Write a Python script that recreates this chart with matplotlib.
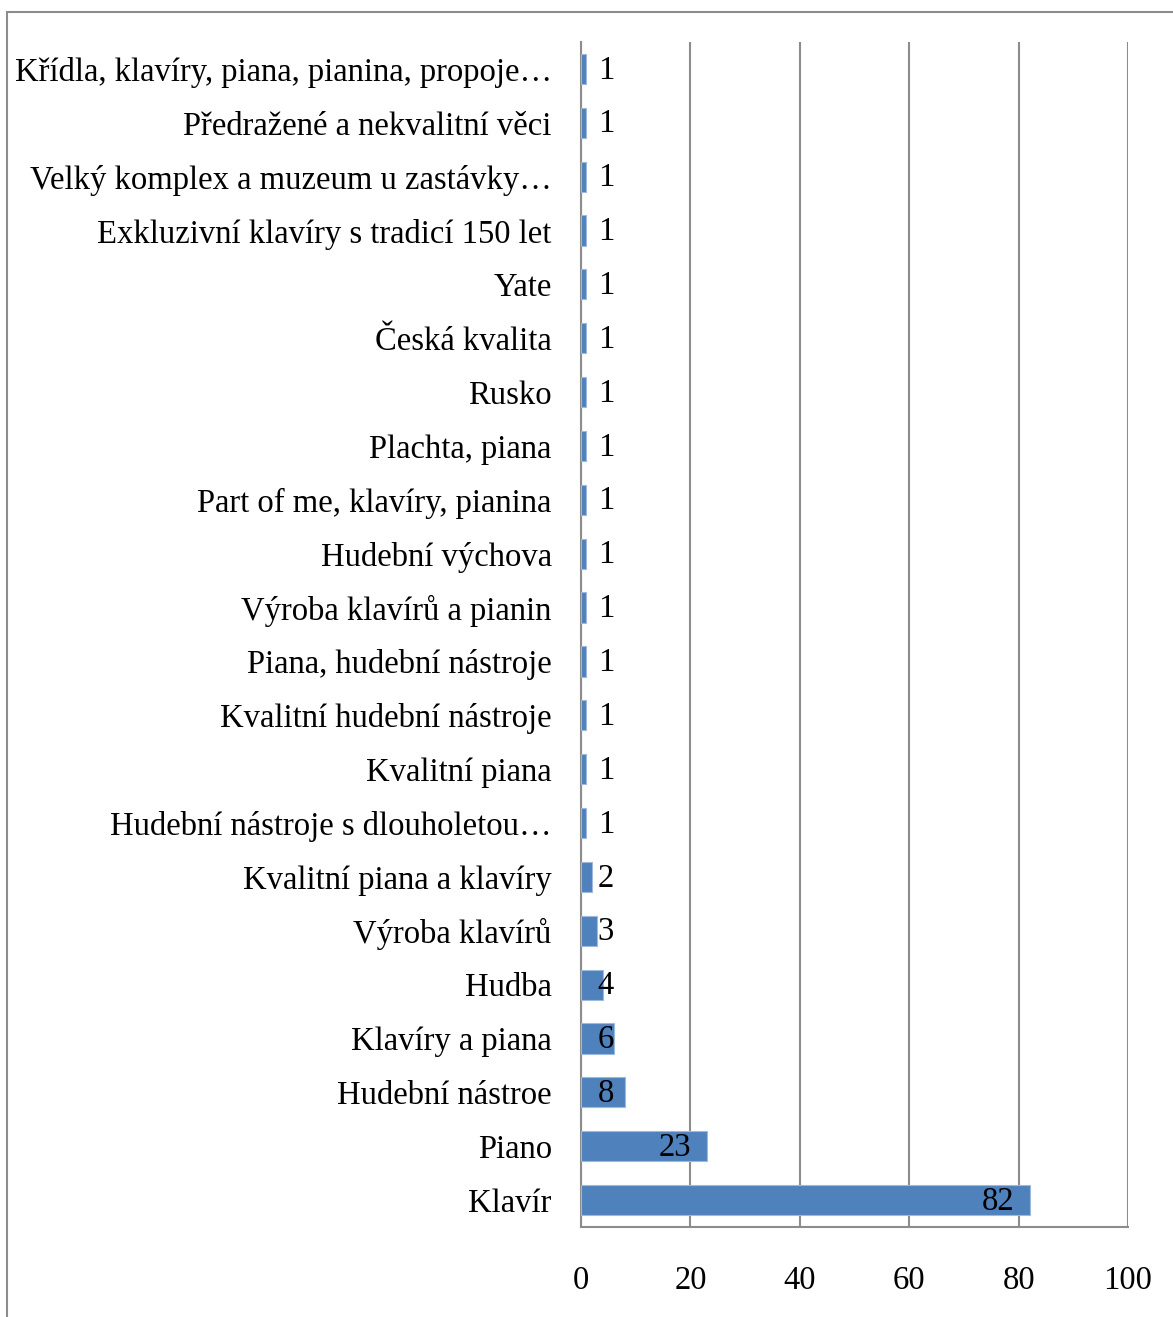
import matplotlib.pyplot as plt
from matplotlib.patches import Rectangle

# odpovedi (shora dolu) a pocty
kategorie = [
    "Křídla, klavíry, piana, pianina, propoje…",
    "Předražené a nekvalitní věci",
    "Velký komplex a muzeum u zastávky…",
    "Exkluzivní klavíry s tradicí 150 let",
    "Yate",
    "Česká kvalita",
    "Rusko",
    "Plachta, piana",
    "Part of me, klavíry, pianina",
    "Hudební výchova",
    "Výroba klavírů a pianin",
    "Piana, hudební nástroje",
    "Kvalitní hudební nástroje",
    "Kvalitní piana",
    "Hudební nástroje s dlouholetou…",
    "Kvalitní piana a klavíry",
    "Výroba klavírů",
    "Hudba",
    "Klavíry a piana",
    "Hudební nástroe",
    "Piano",
    "Klavír",
]
pocty = [1, 1, 1, 1, 1, 1, 1, 1, 1, 1, 1, 1, 1, 1, 1, 2, 3, 4, 6, 8, 23, 82]
x_ticks = [0, 20, 40, 60, 80, 100]

plt.rcParams['font.family'] = ['Liberation Serif', 'DejaVu Serif']
FS = 23.5

fig = plt.figure(figsize=(11.73, 13.17), dpi=100)

# ramecek grafu (pravy a spodni okraj jsou mimo obrazek)
fig.patches.append(Rectangle((7 / 1173, -0.05), 1.2, 1 - 12 / 1317 + 0.05,
                             transform=fig.transFigure, fill=False,
                             edgecolor='#8c8c8c', linewidth=1.5))

ax = fig.add_axes([581 / 1173, 1 - 1227 / 1317, (1128 - 581) / 1173, (1227 - 42) / 1317])

pozice = list(range(len(kategorie)))
bars = ax.barh(pozice, pocty, height=0.56, color='#4F81BD',
               edgecolor='#9DB9DE', linewidth=0.8, zorder=3)

ax.set_xlim(0, 100)
ax.set_ylim(len(kategorie) - 0.5, -0.5)
ax.set_xticks(x_ticks)
ax.set_xticklabels([str(t) for t in x_ticks], fontsize=FS)
ax.set_yticks(pozice)
ax.set_yticklabels(kategorie, fontsize=FS)
ax.tick_params(axis='y', length=0, pad=21)
ax.tick_params(axis='x', length=0, pad=28)

ax.grid(True, axis='x', color='#8c8c8c', linewidth=1.5, zorder=0)
for side in ['left', 'bottom']:
    ax.spines[side].set_color('#8c8c8c')
    ax.spines[side].set_linewidth(1.5)
ax.spines['top'].set_visible(False)
ax.spines['right'].set_visible(False)

# hodnoty u sloupcu
for bar, val in zip(bars, pocty):
    y = bar.get_y() + bar.get_height() / 2
    if val >= 10:
        ax.annotate(str(val), (val, y), xytext=(-11, -1), textcoords='offset points',
                    ha='right', va='center', fontsize=FS, zorder=4)
    else:
        ax.annotate(str(val), (0, y), xytext=(12, -1), textcoords='offset points',
                    ha='left', va='center', fontsize=FS, zorder=4)

fig.savefig("out.png", dpi=100)
